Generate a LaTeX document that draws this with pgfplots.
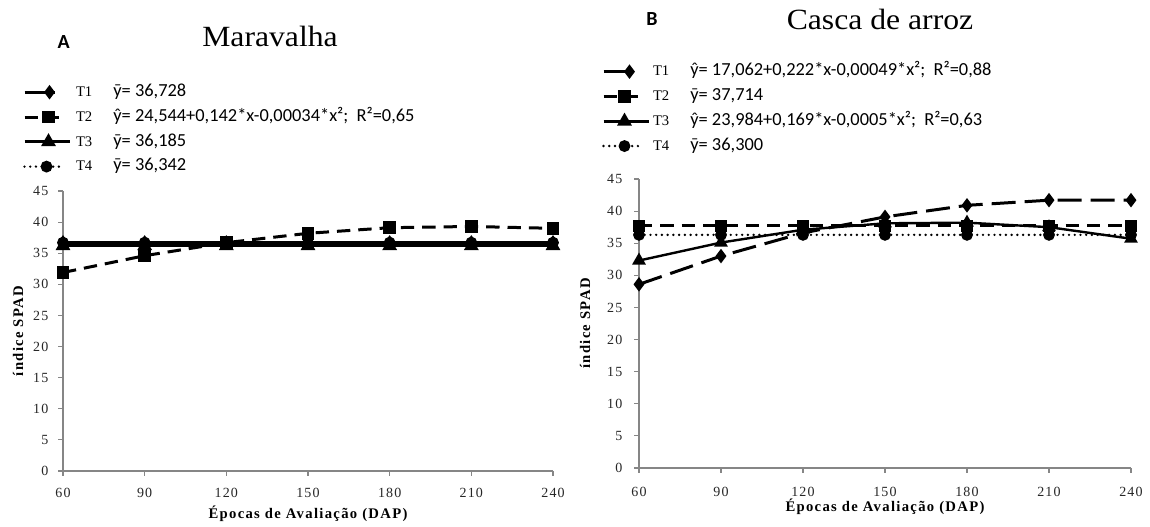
\documentclass[border=0pt]{standalone}
\usepackage{pgfplots}
\usepackage{pgfplotstable}
\pgfplotsset{compat=1.18}
\usepackage{fontspec}
\newfontfamily\tnr{Liberation Serif}
\newfontfamily\tnrsp[LetterSpace=9]{Liberation Serif}
\newfontfamily\tnrtick[LetterSpace=8]{Liberation Serif}
\newfontfamily\titlefont[FakeStretch=1.08]{Liberation Serif}
\newfontfamily\carlito{Carlito}
\definecolor{axgray}{HTML}{868686}

% SPAD index, Maravalha substrate
\pgfplotstableread{
x   T1     T2    T3     T4
60  36.73  31.9  36.19  36.70
90  36.73  34.6  36.19  36.70
120 36.73  36.7  36.19  36.70
150 36.73  38.2  36.19  36.70
180 36.73  39.1  36.19  36.70
210 36.73  39.3  36.19  36.70
240 36.73  39.0  36.19  36.70
}\tabA

% SPAD index, Casca de arroz substrate
\pgfplotstableread{
x   T1    T2     T3    T4
60  28.6  37.71  32.3  36.3
90  33.0  37.71  35.1  36.3
120 36.6  37.71  37.1  36.3
150 39.1  37.71  38.1  36.3
180 40.9  37.71  38.2  36.3
210 41.7  37.71  37.5  36.3
240 41.7  37.71  35.7  36.3
}\tabB

\pgfplotsset{
  spad/.style={
    scale only axis, clip=false,
    xmin=60, xmax=240, ymin=0, ymax=45,
    xtick={60,90,...,240}, ytick={0,5,...,45},
    axis x line*=bottom, axis y line*=left,
    axis line style={draw=axgray, line width=0.8pt, -},
    tick style={draw=axgray, line width=0.8pt},
    tick align=outside, major tick length=3.5pt,
    ticklabel style={font=\tnrtick\fontsize{10.5}{11}\selectfont, text=black!85},
    /pgf/number format/assume math mode=true,
    xlabel={Épocas de Avaliação (DAP)},
    ylabel={índice SPAD},
    label style={font=\tnrsp\bfseries\fontsize{11}{12}\selectfont},
    xlabel style={anchor=center},
    ylabel style={anchor=center},
    legend cell align=left,
    legend style={draw=none, fill=none, inner sep=0pt, outer sep=0pt,
      anchor=north west, row sep=5.1pt, column sep=0pt,
      nodes={inner sep=0pt, text height=10pt, text depth=3.5pt}},
  },
  % legend sample: mark position, line end, cell width, extra options
  legimg/.style n args={4}{legend image code/.code={%
    \draw[##1,#4,mark repeat=2,mark phase=2] plot coordinates {(0pt,0pt)(#1,0pt)(#2,0pt)};
    \path (#3,0pt);}},
}
\newcommand{\lt}[2]{\makebox[28pt][l]{\tnr\fontsize{11}{11}\selectfont #1}{\carlito\fontsize{13.8}{14}\selectfont #2}}

\begin{document}
\begin{tikzpicture}
% ---- A: Maravalha ----
\begin{axis}[spad, at={(47.25pt,42pt)}, anchor=origin, width=367.5pt, height=210pt,
  xlabel style={at={(axis description cs:0.5,-0.152)}},
  ylabel style={at={(axis description cs:-0.0918,0.5)}},
  yticklabel style={xshift=-4pt}, xticklabel style={yshift=-6pt},
  legend style={at={(axis description cs:-0.0816,1.385)}}]
\addplot[black, line width=2.25pt, mark=diamond*, mark size=3.6pt, mark options={solid},
  legimg={18.75pt}{22.5pt}{37.5pt}{}]
  table[x=x,y=T1] {\tabA};
\addlegendentry{\lt{T1}{ȳ= 36,728}}
\addplot[black, line width=2.25pt, dash pattern=on 10pt off 6pt, mark=square*, mark size=3.6pt, mark options={solid},
  legimg={18pt}{31.5pt}{37.5pt}{}]
  table[x=x,y=T2] {\tabA};
\addlegendentry{\lt{T2}{ŷ= 24,544+0,142*x-0,00034*x²;\ \ R²=0,65}}
\addplot[black, line width=2.25pt, mark=triangle*, mark size=4.2pt, mark options={solid},
  legimg={18pt}{33.75pt}{37.5pt}{}]
  table[x=x,y=T3] {\tabA};
\addlegendentry{\lt{T3}{ȳ= 36,185}}
\addplot[black, line width=2pt, line cap=round, dash pattern=on 0pt off 4.3pt, mark=*, mark size=3.4pt, mark options={solid},
  legimg={16.5pt}{29pt}{37.5pt}{}]
  table[x=x,y=T4] {\tabA};
\addlegendentry{\lt{T4}{ȳ= 36,342}}
\end{axis}

% ---- B: Casca de arroz ----
\begin{axis}[spad, at={(479.25pt,44.25pt)}, anchor=origin, width=369pt, height=216.75pt,
  xlabel style={at={(axis description cs:0.5,-0.135)}},
  ylabel style={at={(axis description cs:-0.1098,0.5)}},
  yticklabel style={xshift=-5.5pt}, xticklabel style={yshift=-7pt},
  legend style={at={(axis description cs:-0.0752,1.4026)}}]
\addplot[black, line width=2.25pt, dash pattern=on 18pt off 6.75pt, mark=diamond*, mark size=3.6pt, mark options={solid},
  legimg={19.5pt}{22.5pt}{36pt}{solid}]
  table[x=x,y=T1] {\tabB};
\addlegendentry{\lt{T1}{ŷ= 17,062+0,222*x-0,00049*x²;\ \ R²=0,88}}
\addplot[black, line width=2.25pt, dash pattern=on 10pt off 6pt, mark=square*, mark size=3.6pt, mark options={solid},
  legimg={15.75pt}{30.75pt}{36pt}{}]
  table[x=x,y=T2] {\tabB};
\addlegendentry{\lt{T2}{ȳ= 37,714}}
\addplot[black, line width=1.8pt, mark=triangle*, mark size=4.2pt, mark options={solid},
  legimg={15.75pt}{33.75pt}{36pt}{line width=2.25pt}]
  table[x=x,y=T3] {\tabB};
\addlegendentry{\lt{T3}{ŷ= 23,984+0,169*x-0,0005*x²;\ \ R²=0,63}}
\addplot[black, line width=2pt, line cap=round, dash pattern=on 0pt off 4.3pt, mark=*, mark size=3.4pt, mark options={solid},
  legimg={15.75pt}{30pt}{36pt}{}]
  table[x=x,y=T4] {\tabB};
\addlegendentry{\lt{T4}{ȳ= 36,300}}
\end{axis}

% panel letters and titles
\node[anchor=base, font=\carlito\bfseries\fontsize{15}{16}\selectfont] at (47.7pt,359pt) {A};
\node[anchor=base, font=\titlefont\fontsize{22}{24}\selectfont] at (202.5pt,360.2pt) {Maravalha};
\node[anchor=base, font=\carlito\bfseries\fontsize{15}{16}\selectfont] at (489pt,375.75pt) {B};
\node[anchor=base, font=\titlefont\fontsize{22}{24}\selectfont] at (660pt,373pt) {Casca de arroz};

\pgfresetboundingbox
\path (0pt,0pt) rectangle (862.5pt,395.25pt);
\end{tikzpicture}
\end{document}
